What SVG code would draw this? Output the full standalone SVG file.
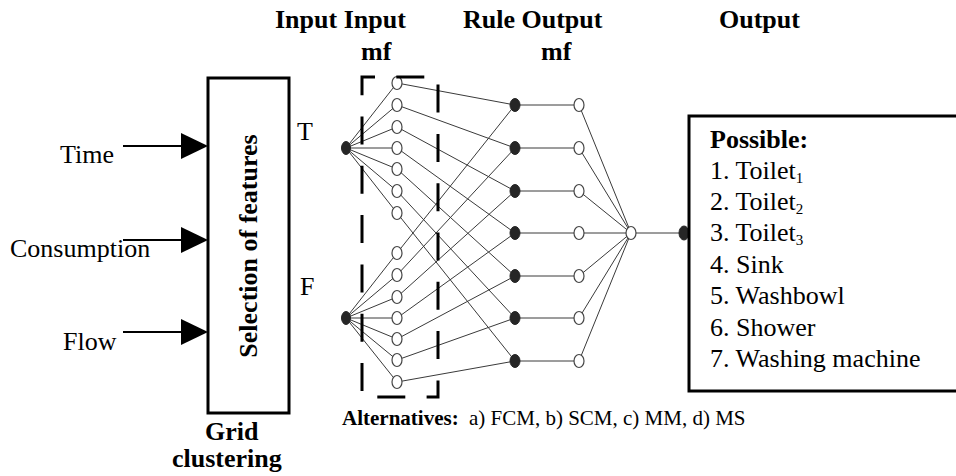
<svg xmlns="http://www.w3.org/2000/svg" width="956" height="476" viewBox="0 0 956 476">
<style>
text{font-family:"Liberation Serif","Times New Roman",serif;fill:#000}
.t{font-size:26px}
.b{font-size:26px;font-weight:bold}
.s{font-size:21px}
.sb{font-size:21px;font-weight:bold}
.sub{font-size:15px}
.ln{stroke:#3a3a3a;stroke-width:1;fill:none}
.open{fill:#fff;stroke:#444;stroke-width:1.2}
.fill{fill:#262626;stroke:#262626;stroke-width:1}
.box{fill:#fff;stroke:#000;stroke-width:3}
.arr{stroke:#000;stroke-width:2}
</style>
<rect width="956" height="476" fill="#fff"/>

<g id="headings">
<text class="b" x="275" y="28">Input Input</text>
<text class="b" x="361" y="60">mf</text>
<text class="b" x="463" y="28">Rule Output</text>
<text class="b" x="541" y="60">mf</text>
<text class="b" x="719" y="28">Output</text>
</g>

<g id="input-time">
<text class="t" x="60" y="163">Time</text>
</g>
<g id="input-consumption">
<text class="t" x="10" y="257">Consumption</text>
</g>
<g id="input-flow">
<text class="t" x="63" y="350">Flow</text>
</g>

<g id="selection">
<rect class="box" x="208" y="78" width="81" height="335" stroke-width="2.5"/>
<text class="b" text-anchor="middle" transform="translate(257,246) rotate(-90)">Selection of features</text>
</g>
<g id="grid-label">
<text class="b" x="205" y="440">Grid</text>
<text class="b" x="172" y="467">clustering</text>
</g>

<g id="connectors">
<line class="arr" x1="123" y1="146" x2="185" y2="146"/>
<polygon points="181,133 208,146 181,159" fill="#000"/>
<line class="arr" x1="123" y1="240" x2="185" y2="240"/>
<polygon points="181,227 208,240 181,253" fill="#000"/>
<line class="arr" x1="123" y1="332" x2="185" y2="332"/>
<polygon points="181,319 208,332 181,345" fill="#000"/>

<line class="ln" x1="346" y1="148" x2="397" y2="83"/>
<line class="ln" x1="346" y1="148" x2="397" y2="105"/>
<line class="ln" x1="346" y1="148" x2="397" y2="127"/>
<line class="ln" x1="346" y1="148" x2="397" y2="148"/>
<line class="ln" x1="346" y1="148" x2="397" y2="169"/>
<line class="ln" x1="346" y1="148" x2="397" y2="191"/>
<line class="ln" x1="346" y1="148" x2="397" y2="213"/>
<line class="ln" x1="346" y1="318" x2="397" y2="253"/>
<line class="ln" x1="346" y1="318" x2="397" y2="275"/>
<line class="ln" x1="346" y1="318" x2="397" y2="297"/>
<line class="ln" x1="346" y1="318" x2="397" y2="318"/>
<line class="ln" x1="346" y1="318" x2="397" y2="339"/>
<line class="ln" x1="346" y1="318" x2="397" y2="360"/>
<line class="ln" x1="346" y1="318" x2="397" y2="382"/>
<line class="ln" x1="397" y1="83" x2="515" y2="105"/>
<line class="ln" x1="397" y1="105" x2="515" y2="148"/>
<line class="ln" x1="397" y1="127" x2="515" y2="191"/>
<line class="ln" x1="397" y1="148" x2="515" y2="233"/>
<line class="ln" x1="397" y1="169" x2="515" y2="276"/>
<line class="ln" x1="397" y1="191" x2="515" y2="318"/>
<line class="ln" x1="397" y1="213" x2="515" y2="361"/>
<line class="ln" x1="397" y1="253" x2="515" y2="105"/>
<line class="ln" x1="397" y1="275" x2="515" y2="148"/>
<line class="ln" x1="397" y1="297" x2="515" y2="191"/>
<line class="ln" x1="397" y1="318" x2="515" y2="233"/>
<line class="ln" x1="397" y1="339" x2="515" y2="276"/>
<line class="ln" x1="397" y1="360" x2="515" y2="318"/>
<line class="ln" x1="397" y1="382" x2="515" y2="361"/>
<line class="ln" x1="515" y1="105" x2="579" y2="105"/>
<line class="ln" x1="515" y1="148" x2="579" y2="148"/>
<line class="ln" x1="515" y1="191" x2="579" y2="191"/>
<line class="ln" x1="515" y1="233" x2="579" y2="233"/>
<line class="ln" x1="515" y1="276" x2="579" y2="276"/>
<line class="ln" x1="515" y1="318" x2="579" y2="318"/>
<line class="ln" x1="515" y1="361" x2="579" y2="361"/>
<line class="ln" x1="579" y1="105" x2="631" y2="233"/>
<line class="ln" x1="579" y1="148" x2="631" y2="233"/>
<line class="ln" x1="579" y1="191" x2="631" y2="233"/>
<line class="ln" x1="579" y1="233" x2="631" y2="233"/>
<line class="ln" x1="579" y1="276" x2="631" y2="233"/>
<line class="ln" x1="579" y1="318" x2="631" y2="233"/>
<line class="ln" x1="579" y1="361" x2="631" y2="233"/>
<line class="ln" x1="631" y1="233" x2="683" y2="233"/>
</g>

<g id="input-T">
<text class="t" x="297" y="140">T</text>
<ellipse class="fill" cx="346" cy="148" rx="4.5" ry="6.5"/>
</g>
<g id="input-F">
<text class="t" x="300" y="295">F</text>
<ellipse class="fill" cx="346" cy="318" rx="4.5" ry="6.5"/>
</g>

<g id="input-mf">
<ellipse class="open" cx="397" cy="83" rx="5" ry="6.5"/>
<ellipse class="open" cx="397" cy="105" rx="5" ry="6.5"/>
<ellipse class="open" cx="397" cy="127" rx="5" ry="6.5"/>
<ellipse class="open" cx="397" cy="148" rx="5" ry="6.5"/>
<ellipse class="open" cx="397" cy="169" rx="5" ry="6.5"/>
<ellipse class="open" cx="397" cy="191" rx="5" ry="6.5"/>
<ellipse class="open" cx="397" cy="213" rx="5" ry="6.5"/>
<ellipse class="open" cx="397" cy="253" rx="5" ry="6.5"/>
<ellipse class="open" cx="397" cy="275" rx="5" ry="6.5"/>
<ellipse class="open" cx="397" cy="297" rx="5" ry="6.5"/>
<ellipse class="open" cx="397" cy="318" rx="5" ry="6.5"/>
<ellipse class="open" cx="397" cy="339" rx="5" ry="6.5"/>
<ellipse class="open" cx="397" cy="360" rx="5" ry="6.5"/>
<ellipse class="open" cx="397" cy="382" rx="5" ry="6.5"/>
</g>

<g id="rules">
<ellipse class="fill" cx="515" cy="105" rx="5" ry="6.5"/>
<ellipse class="fill" cx="515" cy="148" rx="5" ry="6.5"/>
<ellipse class="fill" cx="515" cy="191" rx="5" ry="6.5"/>
<ellipse class="fill" cx="515" cy="233" rx="5" ry="6.5"/>
<ellipse class="fill" cx="515" cy="276" rx="5" ry="6.5"/>
<ellipse class="fill" cx="515" cy="318" rx="5" ry="6.5"/>
<ellipse class="fill" cx="515" cy="361" rx="5" ry="6.5"/>
</g>

<g id="output-mf">
<ellipse class="open" cx="579" cy="105" rx="5" ry="6.5"/>
<ellipse class="open" cx="579" cy="148" rx="5" ry="6.5"/>
<ellipse class="open" cx="579" cy="191" rx="5" ry="6.5"/>
<ellipse class="open" cx="579" cy="233" rx="5" ry="6.5"/>
<ellipse class="open" cx="579" cy="276" rx="5" ry="6.5"/>
<ellipse class="open" cx="579" cy="318" rx="5" ry="6.5"/>
<ellipse class="open" cx="579" cy="361" rx="5" ry="6.5"/>
</g>

<g id="output-node">
<ellipse class="open" cx="631" cy="233" rx="5" ry="6.5"/>
</g>
<g id="final-node">
<ellipse class="fill" cx="684" cy="233" rx="5" ry="7"/>
</g>

<g id="mf-frame">
<path d="M362,77 H438 V397 H362 Z" fill="none" stroke="#000" stroke-width="3" stroke-dasharray="28 21.3" stroke-dashoffset="15"/>
</g>

<g id="output-box">
<rect class="box" x="689" y="116" width="300" height="275"/>
<text class="b" x="710" y="148">Possible:</text>
<text class="t" x="710" y="179">1. Toilet<tspan class="sub" dy="4">1</tspan></text>
<text class="t" x="710" y="210">2. Toilet<tspan class="sub" dy="4">2</tspan></text>
<text class="t" x="710" y="241">3. Toilet<tspan class="sub" dy="4">3</tspan></text>
<text class="t" x="710" y="273">4. Sink</text>
<text class="t" x="710" y="304">5. Washbowl</text>
<text class="t" x="710" y="336">6. Shower</text>
<text class="t" x="710" y="367">7. Washing machine</text>
</g>

<g id="alternatives">
<text class="sb" x="342" y="425">Alternatives:</text>
<text class="s" x="469" y="425">a) FCM, b) SCM, c) MM, d) MS</text>
</g>
</svg>
